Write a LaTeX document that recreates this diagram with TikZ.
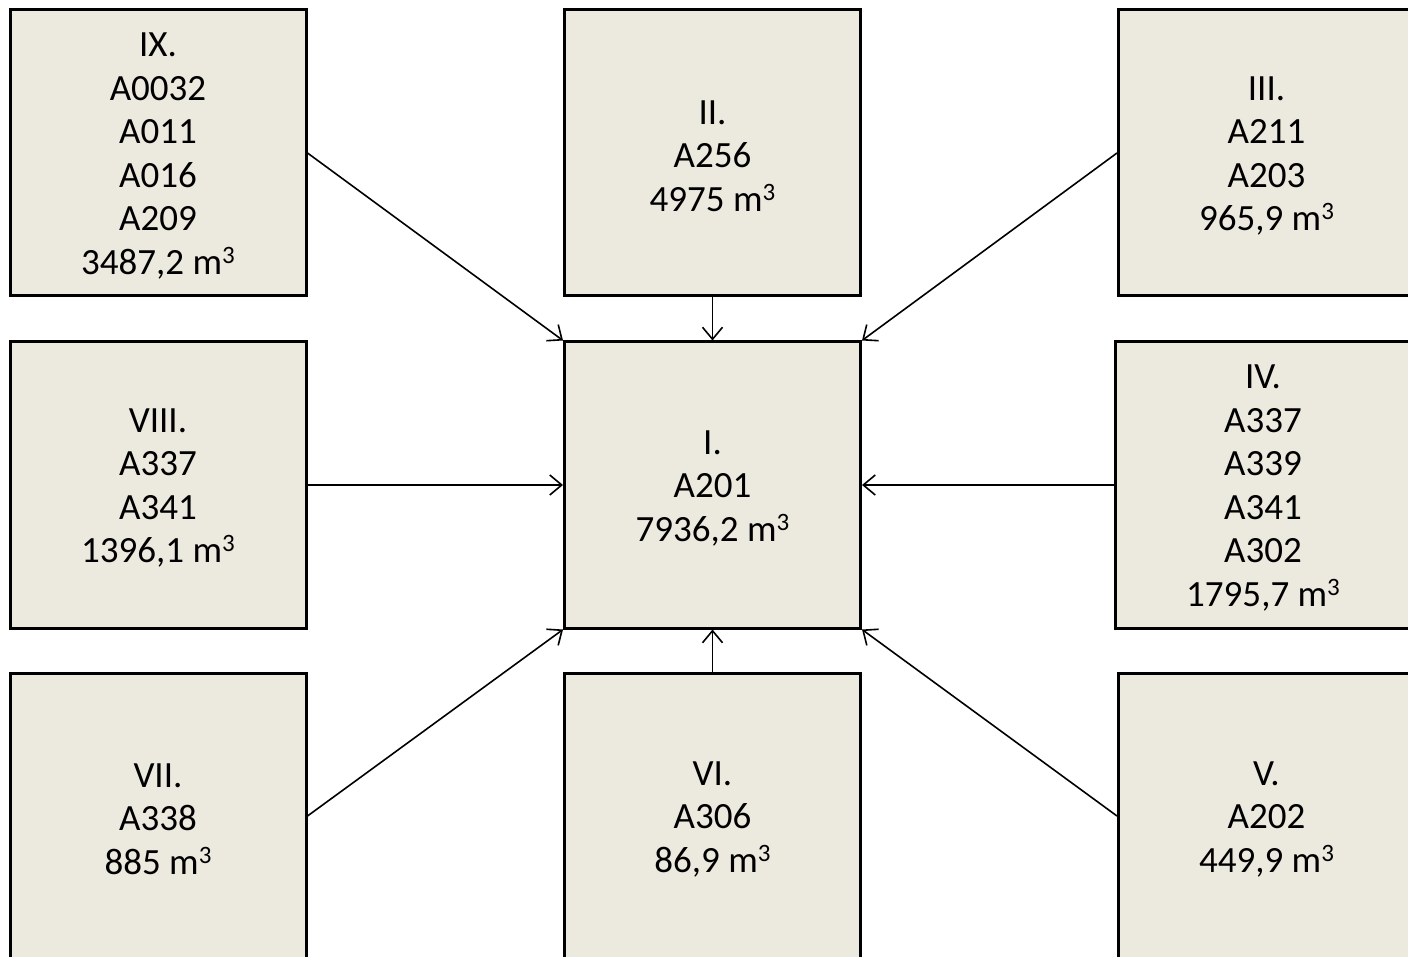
\documentclass[tikz,border=0pt]{standalone}
\usepackage{fontspec}
\setmainfont{Carlito}
\usetikzlibrary{arrows.meta}
\definecolor{boxfill}{HTML}{ECE9DF}
\tikzset{
  box/.style={draw=black, line width=3pt, fill=boxfill, minimum width=296pt, minimum height=286pt,
    inner sep=0pt},
  txt/.style={inner sep=0pt, align=center, font=\fontsize{37}{43.5}\selectfont},
  conn/.style={line width=1.6pt, -{Straight Barb[length=12pt,width=20pt,line width=1.6pt]}}
}
\newcommand{\mcube}{m\raisebox{0.62ex}{\fontsize{25}{25}\selectfont 3}}
\begin{document}
\begin{tikzpicture}[x=1pt,y=-1pt]
\useasboundingbox (0,0) rectangle (1408,957);
\clip (0,0) rectangle (1408,957);
\node[box] (n9) at (158,153) {};
\node[box] (n2) at (712.5,153) {};
\node[box] (n3) at (1266.5,153) {};
\node[box] (n8) at (158,485) {};
\node[box] (n1) at (712.5,485) {};
\node[box] (n4) at (1263,485) {};
\node[box] (n7) at (158,816) {};
\node[box] (n6) at (712.5,816) {};
\node[box] (n5) at (1266.5,816) {};
\node[txt] (t9) at ([yshift=-3pt]n9.center) {IX.\\A0032\\A011\\A016\\A209\\3487,2 \mcube};
\node[txt] (t2) at ([yshift=-3pt]n2.center) {II.\\A256\\4975 \mcube};
\node[txt] (t3) at ([yshift=-3pt]n3.center) {III.\\A211\\A203\\965,9 \mcube};
\node[txt] (t8) at ([yshift=-3pt]n8.center) {VIII.\\A337\\A341\\1396,1 \mcube};
\node[txt] (t1) at ([yshift=-3pt]n1.center) {I.\\A201\\7936,2 \mcube};
\node[txt] (t4) at ([yshift=-3pt]n4.center) {IV.\\A337\\A339\\A341\\A302\\1795,7 \mcube};
\node[txt] (t7) at ([yshift=-3pt]n7.center) {VII.\\A338\\885 \mcube};
\node[txt] (t6) at ([yshift=-3pt]n6.center) {VI.\\A306\\86,9 \mcube};
\node[txt] (t5) at ([yshift=-3pt]n5.center) {V.\\A202\\449,9 \mcube};
\draw[conn] (n9.east) -- (n1.north west);
\draw[conn] (n2.south) -- (n1.north);
\draw[conn] (n3.west) -- (n1.north east);
\draw[conn] (n8.east) -- (n1.west);
\draw[conn] (n4.west) -- (n1.east);
\draw[conn] (n7.east) -- (n1.south west);
\draw[conn] (n6.north) -- (n1.south);
\draw[conn] (n5.west) -- (n1.south east);
\end{tikzpicture}
\end{document}
